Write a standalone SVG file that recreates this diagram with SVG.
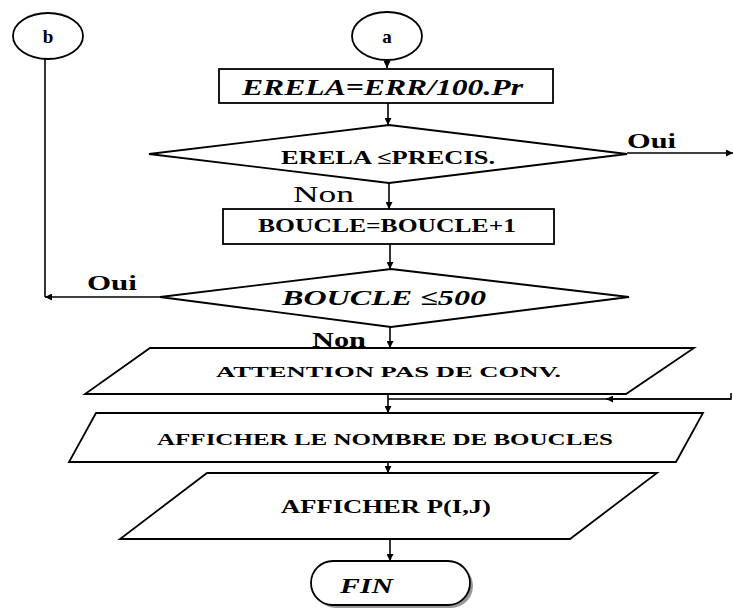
<svg xmlns="http://www.w3.org/2000/svg" width="733" height="608" viewBox="0 0 733 608">
<style>
.s{fill:#fff;stroke:#000;stroke-width:1.8}
.c{fill:none;stroke:#000;stroke-width:1.6}
.t{font-family:"Liberation Serif","DejaVu Serif","Noto Serif",serif;fill:#000;font-weight:bold}
.r{font-family:"Liberation Serif","DejaVu Serif","Noto Serif",serif;fill:#000}
.i{font-style:italic}
</style>
<defs>
<marker id="ah" viewBox="0 0 10 10" refX="10" refY="5" markerWidth="7" markerHeight="7" markerUnits="userSpaceOnUse" orient="auto">
<path d="M0,0 L10,5 L0,10 z" fill="#000"/>
</marker>
</defs>
<rect width="733" height="608" fill="#fff"/>
<g id="connectors">
<line class="c" x1="387" y1="60" x2="387" y2="68" marker-end="url(#ah)"/>
<line class="c" x1="388" y1="103" x2="388" y2="125" marker-end="url(#ah)"/>
<line class="c" x1="627" y1="153" x2="733" y2="153" marker-end="url(#ah)"/>
<line class="c" x1="389" y1="183" x2="389" y2="209" marker-end="url(#ah)"/>
<line class="c" x1="390" y1="244" x2="390" y2="269" marker-end="url(#ah)"/>
<line class="c" x1="45" y1="59" x2="45" y2="297"/>
<line class="c" x1="160" y1="297" x2="45" y2="297" marker-end="url(#ah)"/>
<line class="c" x1="390" y1="327" x2="390" y2="348" marker-end="url(#ah)"/>
<line class="c" x1="388" y1="394" x2="388" y2="413" marker-end="url(#ah)"/>
<polyline class="c" points="731,393 731,399 388,399"/>
<line class="c" x1="731" y1="399" x2="606" y2="399" marker-end="url(#ah)"/>
<line class="c" x1="388" y1="462" x2="388" y2="473" marker-end="url(#ah)"/>
<line class="c" x1="390" y1="539" x2="390" y2="561" marker-end="url(#ah)"/>
</g>
<g id="b">
<ellipse class="s" cx="48" cy="36" rx="35" ry="23"/>
<text class="t" x="48" y="43" font-size="19" text-anchor="middle">b</text>
</g>
<g id="a">
<ellipse class="s" cx="387" cy="36" rx="35" ry="24"/>
<text class="t" x="387" y="43" font-size="19" text-anchor="middle">a</text>
</g>
<g id="erela">
<rect class="s" x="219" y="69" width="334" height="34"/>
<text class="t i" x="242" y="95" font-size="23" textLength="281" lengthAdjust="spacingAndGlyphs">ERELA=ERR/100.Pr</text>
</g>
<g id="test1">
<polygon class="s" points="389,125 627,154 389,183 149,154"/>
<text class="t" x="281" y="164" font-size="19" textLength="214" lengthAdjust="spacingAndGlyphs">ERELA ≤PRECIS.</text>
<text class="t" x="627" y="148" font-size="20" textLength="49" lengthAdjust="spacingAndGlyphs">Oui</text>
<text class="r" x="293" y="202" font-size="24" textLength="61" lengthAdjust="spacingAndGlyphs">Non</text>
</g>
<g id="boucle">
<rect class="s" x="223" y="209" width="331" height="35"/>
<text class="t" x="258" y="232" font-size="18" textLength="258" lengthAdjust="spacingAndGlyphs">BOUCLE=BOUCLE+1</text>
</g>
<g id="test2">
<polygon class="s" points="391,269 629,297 391,327 160,297"/>
<text class="t i" x="282" y="305" font-size="22" textLength="204" lengthAdjust="spacingAndGlyphs">BOUCLE ≤500</text>
<text class="t" x="87" y="290" font-size="20" textLength="50" lengthAdjust="spacingAndGlyphs">Oui</text>
</g>
<g id="attention">
<polygon class="s" points="150,348 694,348 626,394 85,394"/>
<text class="t" x="216" y="377" font-size="15" textLength="345" lengthAdjust="spacingAndGlyphs">ATTENTION PAS DE CONV.</text>
<text class="t" x="312" y="347" font-size="20" textLength="54" lengthAdjust="spacingAndGlyphs">Non</text>
</g>
<g id="afficher1">
<polygon class="s" points="96,413 703,413 676,462 69,462"/>
<text class="t" x="157" y="445" font-size="17" textLength="456" lengthAdjust="spacingAndGlyphs">AFFICHER LE NOMBRE DE BOUCLES</text>
</g>
<g id="afficher2">
<polygon class="s" points="207,473 657,473 570,539 120,539"/>
<text class="t" x="281" y="513" font-size="18" textLength="210" lengthAdjust="spacingAndGlyphs">AFFICHER P(I,J)</text>
</g>
<g id="fin">
<rect x="314" y="564" width="159" height="44" rx="22" fill="#999"/>
<rect class="s" x="311" y="561" width="159" height="44" rx="22"/>
<text class="t i" x="340" y="593" font-size="22" textLength="53" lengthAdjust="spacingAndGlyphs">FIN</text>
</g>
</svg>
